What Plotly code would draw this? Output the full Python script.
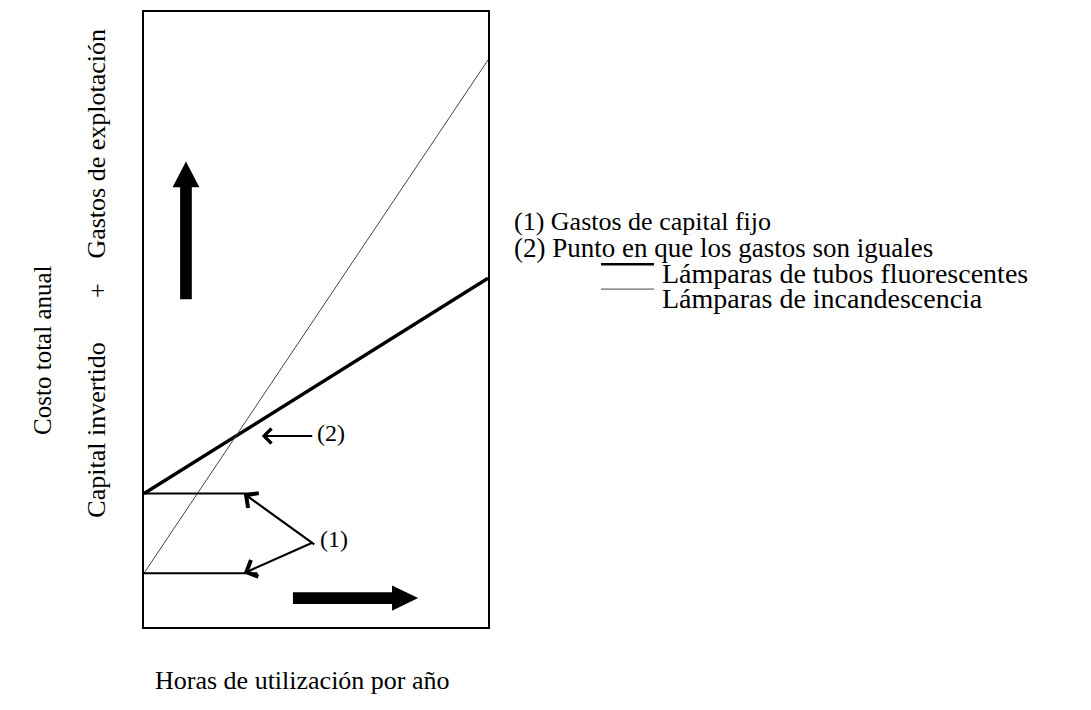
import plotly.graph_objects as go

# ---- data (arbitrary units: x = hours of use per year, y = total annual cost) ----
hours = [0, 100]
cost_fluorescent = [21.7, 56.7]      # thick line
cost_incandescent = [8.75, 92.2]     # thin line
fixed_capital = [21.7, 8.75]         # (1) fixed capital costs (intercepts)
fixed_capital_extent = [0, 33]       # horizontal reference segments

legend_labels = ["(1) Gastos de capital fijo",
                 "(2) Punto en que los gastos son iguales",
                 "Lámparas de tubos fluorescentes",
                 "Lámparas de incandescencia"]

FONT = "Liberation Serif, Times New Roman, serif"
FS = 26

fig = go.Figure()
fig.add_trace(go.Scatter(x=hours, y=cost_fluorescent, mode="lines",
                         line=dict(color="black", width=3.5), name=legend_labels[2]))
fig.add_trace(go.Scatter(x=hours, y=cost_incandescent, mode="lines",
                         line=dict(color="#444", width=1), name=legend_labels[3]))
for fc in fixed_capital:
    fig.add_trace(go.Scatter(x=fixed_capital_extent, y=[fc, fc], mode="lines",
                             line=dict(color="black", width=2), showlegend=False))

# intersection point (2)
s1 = (cost_fluorescent[1] - cost_fluorescent[0]) / (hours[1] - hours[0])
s2 = (cost_incandescent[1] - cost_incandescent[0]) / (hours[1] - hours[0])
xi = (cost_fluorescent[0] - cost_incandescent[0]) / (s2 - s1)
yi = cost_fluorescent[0] + s1 * xi

def txt(x, y, s, size=FS, angle=0, xref="paper", yref="paper", xanchor="center", **kw):
    d = dict(x=x, y=y, xref=xref, yref=yref, text=s, showarrow=False, textangle=angle,
             xanchor=xanchor, yanchor="middle", borderpad=0,
             font=dict(family=FONT, size=size, color="black"))
    d.update(kw)
    return d

ann = []
# arrow to (2)
ann.append(dict(x=xi + 7.5, y=yi, xref="x", yref="y", text="", showarrow=True,
                ax=52, ay=0, arrowhead=4, arrowsize=1.6, arrowwidth=1.8, arrowcolor="black"))
ann.append(txt(xi + 7.5, yi, "(2)", size=FS - 2, xref="x", yref="y", xanchor="left", xshift=54, yshift=3))
# arrows to (1)
for fc, dx, dy in [(fixed_capital[0], 72, 52), (fixed_capital[1], 70, -31)]:
    ann.append(dict(x=29, y=fc, xref="x", yref="y", text="", showarrow=True,
                    ax=dx, ay=dy, arrowhead=4, arrowsize=1.6, arrowwidth=2.2, arrowcolor="black"))
ann.append(txt(29, fixed_capital[1], "(1)", size=FS - 2, xref="x", yref="y", xanchor="left",
               xshift=75, yshift=34))

# page-pixel -> paper coordinate helpers (plot area spans 144..488 x 10..627 on the page)
px = lambda p: (p - 144) / 344.0
py = lambda p: (627 - p) / 617.0

# legend text block
ann.append(txt(px(513), py(220), legend_labels[0], size=26, xanchor="left"))
ann.append(txt(px(513), py(247), legend_labels[1], size=27, xanchor="left"))
ann.append(txt(px(661), py(272), legend_labels[2], size=28, xanchor="left"))
ann.append(txt(px(661), py(297), legend_labels[3], size=28, xanchor="left"))

# axis titles
ann.append(txt(px(302), py(681), "Horas de utilización por año", size=26))
ann.append(txt(px(43), py(349), "Costo total anual", size=25, angle=-90))
ann.append(txt(px(97), py(142), "Gastos de explotación", size=26, angle=-90))
ann.append(txt(px(97), py(290), "+", size=26, angle=-90))
ann.append(txt(px(97), py(430), "Capital invertido", size=26, angle=-90))

shapes = []
# legend line samples
shapes.append(dict(type="line", xref="paper", yref="paper", x0=px(601), x1=px(654),
                   y0=py(263), y1=py(263), line=dict(color="black", width=2.5)))
shapes.append(dict(type="line", xref="paper", yref="paper", x0=px(601), x1=px(654),
                   y0=py(288), y1=py(288), line=dict(color="#444", width=1)))
# big up arrow
shapes.append(dict(type="path", xref="x", yref="y", fillcolor="black", line=dict(width=0),
                   path="M 10.5 53.3 L 10.5 71.5 L 8.3 71.5 L 12.2 75.7 L 16.1 71.5 L 13.9 71.5 L 13.9 53.3 Z"))
# big right arrow
shapes.append(dict(type="path", xref="x", yref="y", fillcolor="black", line=dict(width=0),
                   path="M 43.3 3.75 L 72.1 3.75 L 72.1 2.65 L 79.7 4.7 L 72.1 6.75 L 72.1 5.65 L 43.3 5.65 Z"))

# the page body adds an 8px offset, margins compensate for it
fig.update_layout(
    width=1091, height=710,
    margin=dict(l=136, r=611, t=2, b=91),
    paper_bgcolor="white", plot_bgcolor="white",
    showlegend=False,
    annotations=ann, shapes=shapes,
    font=dict(family=FONT, size=FS, color="black"),
)
fig.update_xaxes(range=[0, 100], showticklabels=False, ticks="", showgrid=False, zeroline=False,
                 showline=True, mirror=True, linecolor="black", linewidth=2)
fig.update_yaxes(range=[0, 100], showticklabels=False, ticks="", showgrid=False, zeroline=False,
                 showline=True, mirror=True, linecolor="black", linewidth=2)

fig.write_html("out.html")
